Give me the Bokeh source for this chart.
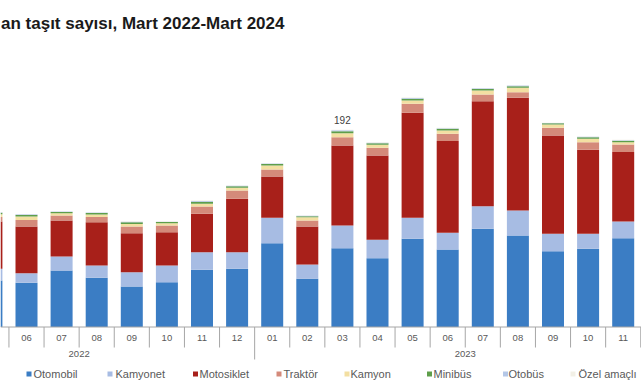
from bokeh.plotting import figure
from bokeh.models import ColumnDataSource, Range1d, Span
from bokeh.embed import file_html
from bokeh.resources import INLINE
from bokeh.core.properties import value

# ---------------- data ----------------
title_text = "an taşıt sayısı, Mart 2022-Mart 2024"
years = ["2022", "2023"]
months_2022 = ["03", "04", "05", "06", "07", "08", "09", "10", "11", "12"]
months_2023 = ["01", "02", "03", "04", "05", "06", "07", "08", "09", "10", "11", "12"]
series = ["Otomobil", "Kamyonet", "Motosiklet", "Traktör", "Kamyon", "Minibüs", "Otobüs", "Özel amaçlı"]
colors = ["#3B7DC4", "#A7BCE3", "#A8201A", "#D48A7A", "#F3DFA2", "#5E9E4A", "#B4C7E7", "#F2F0E6"]

# visible bars: 2022-05 ... 2023-11
first_visible = 2  # index of 2022-05 in the full month list
otomobil   = [45.3, 43.0, 55.0, 47.9, 39.4, 43.6, 55.7, 56.7, 81.6, 46.9, 76.7, 67.0, 85.9, 75.5, 95.6, 89.1, 73.8, 76.2, 86.5]
kamyonet   = [11.4, 9.3, 13.6, 12.0, 13.9, 16.3, 17.1, 16.2, 24.7, 13.9, 22.1, 17.9, 20.4, 16.3, 22.0, 24.3, 16.9, 14.6, 16.3]
motosiklet = [46.0, 45.5, 35.1, 42.2, 38.0, 32.4, 37.4, 52.0, 40.2, 37.0, 77.9, 82.1, 102.2, 89.2, 102.2, 109.8, 95.7, 81.8, 67.5]
traktor    = [4.5, 6.5, 4.9, 4.9, 6.5, 6.5, 7.1, 8.1, 6.8, 5.8, 8.1, 7.5, 8.8, 7.2, 6.5, 5.5, 7.5, 7.4, 7.5]
kamyon     = [2.6, 3.2, 2.2, 2.6, 2.6, 2.2, 2.6, 2.6, 3.9, 3.2, 3.9, 2.9, 3.2, 3.2, 3.9, 4.3, 3.2, 3.3, 2.2]
minibus    = [1.4, 1.6, 1.2, 1.4, 1.5, 1.2, 2.0, 1.4, 1.4, 1.1, 2.0, 1.5, 1.8, 1.6, 1.6, 1.5, 1.2, 1.4, 1.4]
otobus     = [0.5, 0.6, 0.4, 0.5, 0.6, 0.4, 0.7, 0.5, 0.5, 0.4, 0.8, 0.6, 0.7, 0.6, 0.6, 0.6, 0.4, 0.5, 0.5]
ozel       = [0.3, 0.4, 0.3, 0.3, 0.4, 0.3, 0.5, 0.3, 0.3, 0.2, 0.5, 0.4, 0.4, 0.4, 0.4, 0.4, 0.3, 0.3, 0.4]
labelled_bar = "2023-03"

# ---------------- layout helpers (page pixels -> data) ----------------
W, H = 641, 380
PX0, DX = -79.3, 35.1      # page x of category 0, pixels per category
BASE, DY = 326.5, 1.027    # page y of zero line, pixels per unit


def xd(px):
    return (px - PX0) / DX


def yd(py):
    return (BASE - py) / DY


all_months = months_2022 + months_2023
all_keys = [f"2022-{m}" for m in months_2022] + [f"2023-{m}" for m in months_2023]
n = len(otomobil)
xs = list(range(first_visible, first_visible + n))
keys = all_keys[first_visible:first_visible + n]

data = dict(x=xs, key=keys)
cols = [otomobil, kamyonet, motosiklet, traktor, kamyon, minibus, otobus, ozel]
for s, c in zip(series, cols):
    data[s] = c
src = ColumnDataSource(data)

p = figure(width=W, height=H, output_backend="svg", toolbar_location=None,
           x_range=Range1d(xd(0), xd(W)), y_range=Range1d(yd(H), yd(0)),
           min_border=0)
p.axis.visible = False
p.grid.visible = False
p.outline_line_color = None
p.background_fill_color = "white"
p.border_fill_color = "white"

p.vbar_stack(series, x="x", width=22 / DX, color=colors, line_color=None, source=src)

# zero line
p.add_layout(Span(location=0, dimension="width", line_color="#A6A6A6", line_width=1))

# category separators
sep_x = [i + 0.5 for i in range(-1, len(all_months))]
year_bounds = [-0.5, len(months_2022) - 0.5, len(all_months) - 0.5]
short = [sx for sx in sep_x if sx not in year_bounds]
p.segment(x0=short, x1=short, y0=[0] * len(short), y1=[yd(347)] * len(short),
          line_color="#A6A6A6", line_width=1)
p.segment(x0=year_bounds, x1=year_bounds, y0=[0] * 3, y1=[yd(359)] * 3,
          line_color="#A6A6A6", line_width=1)

# month labels (only those fully inside the picture)
lo, hi = xd(8), xd(W - 8)
vis = [i for i in range(len(all_months)) if lo <= i <= hi]
p.text(x=vis, y=[yd(337)] * len(vis), text=[all_months[i] for i in vis],
       text_align="center", text_baseline="middle", text_font=value("Liberation Sans"),
       text_font_size="9.5px", text_color="#595959")

# year labels
yc = [(len(months_2022) - 1) / 2, len(months_2022) + (len(months_2023) - 1) / 2]
p.text(x=yc, y=[yd(353)] * 2, text=years, text_align="center", text_baseline="middle",
       text_font=value("Liberation Sans"), text_font_size="9.5px", text_color="#595959")

# data label
li = keys.index(labelled_bar)
tot = sum(c[li] for c in cols)
p.text(x=[xs[li]], y=[tot + 6], text=[f"{tot:.0f}"], text_align="center",
       text_baseline="bottom", text_font=value("Liberation Sans"), text_font_size="10px",
       text_color="#404040")

# title
p.text(x=[xd(0.5)], y=[yd(22.7)], text=[title_text], text_align="left",
       text_baseline="alphabetic", text_font=value("Liberation Sans"),
       text_font_style="bold", text_font_size="17px", text_color="#1a1a1a")

# legend
leg_marker = [28.5, 109.5, 195, 278.5, 346.5, 429, 505, 572.5]
leg_text = [33, 115, 199, 283, 350, 433, 508, 578]
p.scatter(x=[xd(v) for v in leg_marker], y=[yd(373.5)] * 8, marker="square", size=5,
          color=colors, line_color=None)
p.text(x=[xd(v) for v in leg_text], y=[yd(373.5)] * 8, text=series, text_align="left",
       text_baseline="middle", text_font=value("Liberation Sans"), text_font_size="11px",
       text_color="#595959")

open("out.html", "w").write(file_html(p, INLINE))
